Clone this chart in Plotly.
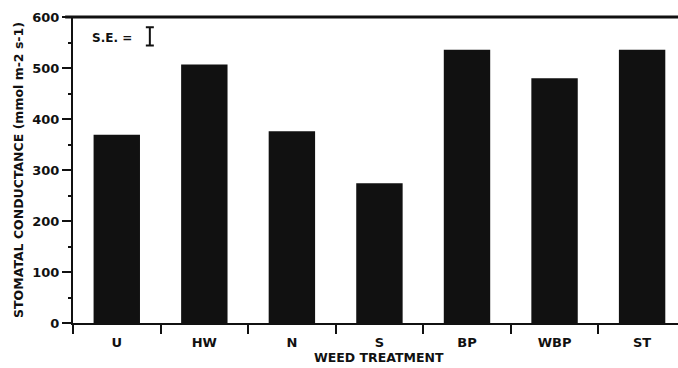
import plotly.graph_objects as go

categories = ["U", "HW", "N", "S", "BP", "WBP", "ST"]
conductance = [369, 507, 376, 274, 536, 480, 536]
se_value = 18
se_center = 562
y_ticks = [0, 100, 200, 300, 400, 500, 600]

FONT = "DejaVu Sans, Arial, sans-serif"
BLACK = "#111111"

fig = go.Figure()
fig.add_trace(go.Bar(
    x=categories, y=conductance, width=0.53,
    marker=dict(color=BLACK, line=dict(width=0)),
    showlegend=False, hoverinfo="skip",
))
# S.E. marker on an overlaying numeric axis
fig.add_trace(go.Scatter(
    x=[0.127], y=[se_center], xaxis="x2", mode="markers",
    marker=dict(size=0.1, color="rgba(0,0,0,0)"),
    error_y=dict(type="constant", value=se_value, color=BLACK, thickness=2, width=4),
    showlegend=False, hoverinfo="skip",
))

fig.update_layout(
    width=678, height=368,
    margin=dict(l=73, r=0, t=17, b=45),
    paper_bgcolor="white", plot_bgcolor="white",
    font=dict(family=FONT, size=12, color=BLACK),
    xaxis=dict(
        type="category", range=[-0.5, 6.41], tickson="boundaries",
        ticks="outside", ticklen=9, tickwidth=2, tickcolor=BLACK,
        showline=True, linewidth=2, linecolor=BLACK,
        showgrid=False, zeroline=False, ticklabelstandoff=6,
        tickfont=dict(family=FONT, size=13, color=BLACK, weight="bold"),
    ),
    xaxis2=dict(overlaying="x", range=[0, 1], visible=False, showgrid=False, zeroline=False),
    yaxis=dict(
        range=[0, 600], tickvals=y_ticks,
        ticks="outside", ticklen=9, tickwidth=2, tickcolor=BLACK,
        showline=True, linewidth=2, linecolor=BLACK,
        showgrid=False, zeroline=False,
        tickfont=dict(family=FONT, size=13, color=BLACK, weight="bold"),
        minor=dict(dtick=50, ticks="outside", ticklen=3, tickwidth=1.5, tickcolor=BLACK),
        title=dict(text="STOMATAL CONDUCTANCE (mmol m-2 s-1)", standoff=6,
                   font=dict(family=FONT, size=12.5, color=BLACK, weight="bold")),
    ),
    shapes=[dict(type="line", xref="paper", yref="paper", x0=-0.013, x1=1, y0=1, y1=1,
                 line=dict(color=BLACK, width=3))],
    annotations=[
        dict(text="WEED TREATMENT", x=3, y=-0.083, xref="x", yref="paper",
             yanchor="top", xanchor="center", showarrow=False,
             font=dict(family=FONT, size=12.5, color=BLACK, weight="bold")),
        dict(text="S.E. =", x=0.028, y=se_center - 4, xref="paper", yref="y",
             xanchor="left", yanchor="middle", showarrow=False,
             font=dict(family=FONT, size=12, color=BLACK, weight="bold")),
    ],
)

fig.write_html("out.html", config={"displayModeBar": False},
               post_script="document.body.style.margin='0';document.body.style.padding='0';")
